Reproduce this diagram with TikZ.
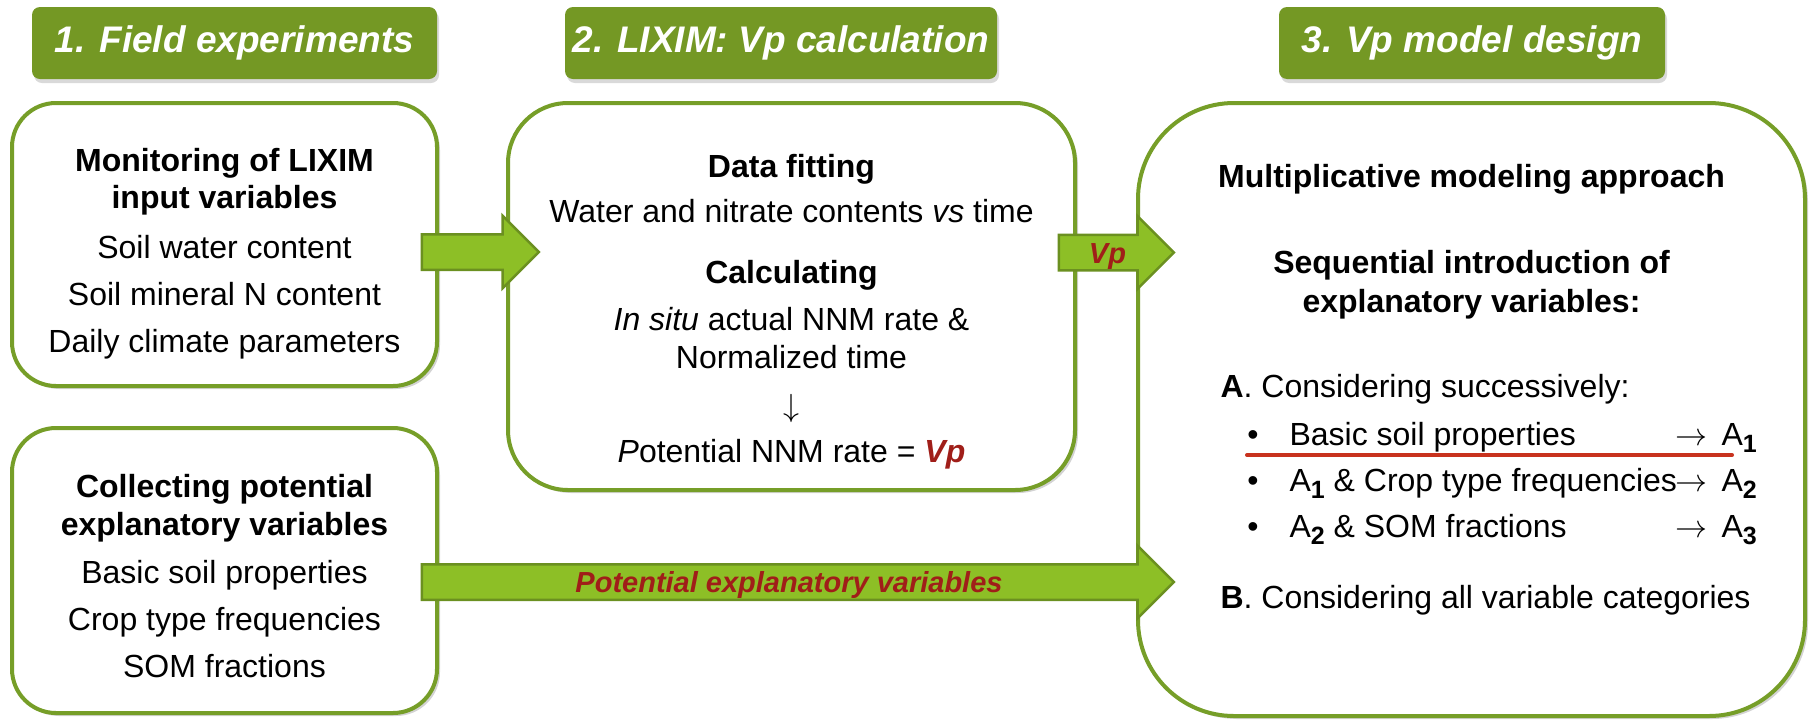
\RequirePackage{fix-cm}
\documentclass[tikz,border=0pt]{standalone}
\usepackage{fontspec}
\setmainfont{Liberation Sans}
\usetikzlibrary{shapes.arrows,shadows}

\definecolor{boxgreen}{RGB}{118,158,40}
\definecolor{headgreen}{RGB}{116,152,36}
\definecolor{arrowfill}{RGB}{141,191,38}
\definecolor{arrowline}{RGB}{107,144,32}
\definecolor{vpred}{RGB}{160,30,25}
\definecolor{ulred}{RGB}{200,50,30}

\newcommand{\subidx}[1]{\raisebox{-7pt}{\fontsize{25}{25}\selectfont\bfseries #1}}

\tikzset{
  box/.style={draw=boxgreen, line width=4pt, fill=white, rounded corners=#1,
    drop shadow={shadow xshift=3pt, shadow yshift=-3pt, opacity=0.35}},
  header/.style={fill=headgreen, rounded corners=8pt, text=white, inner sep=0pt,
    minimum height=72pt, font=\fontsize{37}{40}\selectfont\bfseries\itshape,
    drop shadow={shadow xshift=2pt, shadow yshift=-4pt, opacity=0.3}},
  title/.style={anchor=base, font=\fontsize{32}{38}\selectfont\bfseries},
  body/.style={anchor=base, font=\fontsize{32}{38}\selectfont},
  fatarrow/.style={single arrow, draw=arrowline, line width=2.5pt, fill=arrowfill,
    minimum width=70pt, single arrow head extend=18.5pt, single arrow head indent=0pt,
    inner sep=0pt, text height=27pt, text depth=6pt, text=vpred,
    font=\fontsize{29}{30}\selectfont\bfseries\itshape},
}

\begin{document}
\begin{tikzpicture}[x=1pt,y=-1pt]
  \useasboundingbox (0,0) rectangle (1814,721);
  % headers
  \node[header, minimum width=405pt] (head1) at (234.5,43) {1. Field experiments};
  \node[header, minimum width=432pt] (head2) at (781,43) {2. LIXIM: Vp calculation};
  \node[header, minimum width=386pt] (head3) at (1472,43) {3. Vp model design};
  % boxes
  \node[box=44pt, minimum width=425pt, minimum height=283pt] (mon) at (224.5,244.5) {};
  \node[box=44pt, minimum width=425pt, minimum height=285pt] (col) at (224.5,570.5) {};
  \node[box=60pt, minimum width=567pt, minimum height=387pt] (lix) at (791.5,296.5) {};
  \node[box=96pt, minimum width=667pt, minimum height=613pt] (mod) at (1471.5,409.5) {};
  % arrows
  \node[fatarrow, minimum height=117pt] (arr1) at (471.5,252) {};
  \node[fatarrow, minimum height=115pt] (arr2) at (1107.5,252.5) {Vp};
  \node[fatarrow, minimum height=752pt] (arr3) at (789,582) {Potential explanatory variables};
  % box 1
  \node[title] (mon1) at (224.5,171.5) {Monitoring of LIXIM};
  \node[title] (mon2) at (224.5,208.5) {input variables};
  \node[body] (mon3) at (224.5,258) {Soil water content};
  \node[body] (mon4) at (224.5,305) {Soil mineral N content};
  \node[body] (mon5) at (224.5,352) {Daily climate parameters};
  % box 1 bis
  \node[title] (col1) at (224.5,497) {Collecting potential};
  \node[title] (col2) at (224.5,535) {explanatory variables};
  \node[body] (col3) at (224.5,583) {Basic soil properties};
  \node[body] (col4) at (224.5,630) {Crop type frequencies};
  \node[body] (col5) at (224.5,677) {SOM fractions};
  % box 2
  \node[title] (lix1) at (791.5,177) {Data fitting};
  \node[body] (lix2) at (791.5,222) {Water and nitrate contents \textit{vs} time};
  \node[title] (lix3) at (791.5,283) {Calculating};
  \node[body] (lix4) at (791.5,330) {\textit{In situ} actual NNM rate \&};
  \node[body] (lix5) at (791.5,368) {Normalized time};
  \node[body] (lix6) at (791.5,416) {$\downarrow$};
  \node[body] (lix7) at (791.5,462) {\textit{P}otential NNM rate = \textcolor{vpred}{\textbf{\textit{Vp}}}};
  % box 3
  \node[title] (mod1) at (1471.5,187) {Multiplicative modeling approach};
  \node[title] (mod2) at (1471.5,273) {Sequential introduction of};
  \node[title] (mod3) at (1471.5,312) {explanatory variables:};
  \node[body, anchor=base west] (modA) at (1217,397) {\textbf{A}. Considering successively:};
  \foreach \txt/\res [count=\i] in {Basic soil properties/1,
      A\subidx{1} \& Crop type frequencies/2,
      A\subidx{2} \& SOM fractions/3} {
    \node[body, anchor=base] (dot\i) at (1253,{399+46*\i}) {\textbullet};
    \node[body, anchor=base west] (item\i) at (1286,{399+46*\i}) {\txt};
    \node[body, anchor=base west] (res\i) at (1672,{399+46*\i}) {$\rightarrow$\hspace{14pt}A\subidx{\res}};
  }
  \node[body, anchor=base west] (modB) at (1217,608) {\textbf{B}. Considering all variable categories};
  % red underline
  \coordinate (ul1) at (1247,455);
  \coordinate (ul2) at (1732,455);
  \draw[ulred, line width=4pt, line cap=round] (ul1) -- (ul2);
\end{tikzpicture}
\end{document}
